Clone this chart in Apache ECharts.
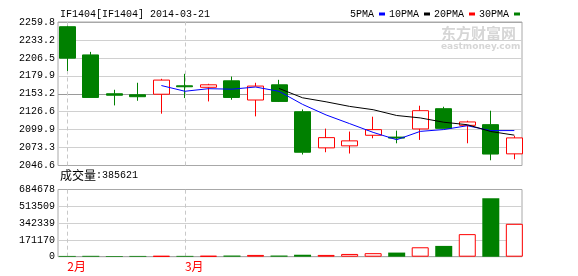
<!DOCTYPE html>
<html><head><meta charset="utf-8">
<script src="https://cdn.jsdelivr.net/npm/echarts@6/dist/echarts.min.js"></script>
<style>html,body{margin:0;padding:0;background:#fff}#c{width:578px;height:276px}</style>
</head><body><div id="c"></div>
<script>
// ---- data ----
const titleText = 'IF1404[IF1404] 2014-03-21';
const lastVolumeLabel = '385621';
const dates = ['2014-02-24','2014-02-25','2014-02-26','2014-02-27','2014-02-28',
  '2014-03-03','2014-03-04','2014-03-05','2014-03-06','2014-03-07',
  '2014-03-10','2014-03-11','2014-03-12','2014-03-13','2014-03-14',
  '2014-03-17','2014-03-18','2014-03-19','2014-03-20','2014-03-21'];
const monthLabels = ['2月','','','','','3月','','','','','','','','','','','','','',''];
const openValues  = [2252.8,2210.9,2153.2,2151.7,2152.5,2165.0,2162.8,2172.4,2143.9,2166.5,2126.5,2072.8,2075.8,2091.5,2088.8,2100.9,2131.0,2106.3,2107.3,2063.9];
const closeValues = [2206.1,2147.7,2151.0,2148.8,2173.5,2163.6,2166.5,2147.7,2164.6,2141.8,2066.3,2088.0,2083.2,2099.9,2087.3,2128.0,2101.8,2111.3,2063.6,2087.6];
const lowValues   = [2187.0,2147.5,2135.9,2142.8,2123.6,2146.8,2141.8,2144.3,2119.6,2140.9,2062.9,2066.3,2064.4,2087.0,2079.6,2084.6,2101.5,2079.6,2054.4,2055.9];
const highValues  = [2254.3,2215.4,2159.1,2169.5,2175.4,2182.8,2168.0,2178.8,2169.5,2173.9,2129.9,2101.4,2097.0,2119.1,2098.4,2135.4,2133.9,2113.2,2128.0,2090.6];
const ma5Values  = [null,null,null,null,2165.4,2156.9,2160.7,2160.0,2163.2,2156.8,2137.4,2121.7,2108.8,2095.8,2084.9,2097.3,2100.0,2105.7,2098.4,2098.5];
const ma10Values = [null,null,null,null,null,null,null,null,null,2161.1,2147.2,2141.2,2134.4,2129.5,2120.9,2117.3,2110.9,2107.2,2097.1,2091.7];
const ma20Values = [];
const ma30Values = [];
const volumeValues = [8000,9000,7000,8000,8000,8500,9000,12000,18000,12000,20000,18000,28000,36000,42000,96000,110000,230000,596000,335000];
const priceTicks = [2046.6,2073.3,2099.9,2126.6,2153.2,2179.9,2206.5,2233.2,2259.8];
const volumeTicks = [0,171170,342339,513509,684678];
const legendNames = ['5PMA','10PMA','20PMA','30PMA'];

// ---- styling ----
const MONO = 'Liberation Mono';
const CJK = 'Noto Sans CJK SC';
const UP = '#ff0000', DOWN = '#008000';
const DATA_LEFT = 55.5, DATA_W = 470.6, FRAME_LEFT = 58, FRAME_W = 464;
const P_TOP = 22, P_H = 143.5, V_TOP = 189.5, V_H = 67.2;
const BORDER = '#a8a8a8', GRID = '#d0d0d0', MID = '#9a9a9a';

const candleData = dates.map((d, i) => [openValues[i], closeValues[i], lowValues[i], highValues[i]]);
const volumeData = volumeValues.map((v, i) => {
  const up = closeValues[i] >= openValues[i];
  return { value: v, itemStyle: up ? { color: '#fff', borderColor: UP, borderWidth: 1 } : { color: DOWN, borderWidth: 0 } };
});
const monthLine = {
  silent: true, z: 1, symbol: ['none','none'], label: { show: false },
  lineStyle: { color: '#c8c8c8', type: [4,3], width: 1 },
  emphasis: { disabled: true },
  data: [{ xAxis: dates[0] }, { xAxis: dates[5] }]
};

const chart = echarts.init(document.getElementById('c'), null, { renderer: 'canvas' });
chart.setOption({
  animation: false,
  backgroundColor: '#fff',
  title: [
    { text: titleText, left: 60, top: 9, padding: 0,
      textStyle: { fontFamily: MONO, fontSize: 10, fontWeight: 'normal', color: '#000' } },
    { text: '{a|成交量}{b|:' + lastVolumeLabel + '}', left: 60, top: 169, padding: 0,
      textStyle: { fontWeight: 'normal',
                   rich: { a: { fontFamily: CJK, fontSize: 12, fontWeight: 'normal', color: '#000' },
                           b: { fontFamily: MONO, fontSize: 10, fontWeight: 'normal', color: '#000' } } } }
  ],
  legend: {
    data: legendNames, left: 350, top: 9, padding: 0, itemGap: 4, itemWidth: 6, itemHeight: 3,
    icon: 'rect', align: 'right', selectedMode: false,
    textStyle: { fontFamily: MONO, fontSize: 10, color: '#000' }
  },
  graphic: [
    { type: 'text', left: 441, top: 26, silent: true,
      style: { text: '东方财富网', font: 'bold 15px "Noto Sans CJK SC"', fill: '#d6d6d6' } },
    { type: 'text', left: 441, top: 42, silent: true,
      style: { text: 'eastmoney.com', font: 'bold 9px "DejaVu Sans"', fill: '#d6d6d6' } }
  ],
  grid: [
    { left: DATA_LEFT, top: P_TOP, width: DATA_W, height: P_H },
    { left: FRAME_LEFT, top: P_TOP, width: FRAME_W, height: P_H, show: true, borderColor: BORDER, borderWidth: 1, backgroundColor: 'transparent' },
    { left: DATA_LEFT, top: V_TOP, width: DATA_W, height: V_H },
    { left: FRAME_LEFT, top: V_TOP, width: FRAME_W, height: V_H, show: true, borderColor: BORDER, borderWidth: 1, backgroundColor: 'transparent' }
  ],
  xAxis: [
    { gridIndex: 0, type: 'category', data: dates, show: false },
    { gridIndex: 1, type: 'category', data: dates, show: false },
    { gridIndex: 2, type: 'category', data: dates,
      axisLine: { show: false }, axisTick: { show: false }, splitLine: { show: false },
      axisLabel: { interval: 0, formatter: (v, i) => monthLabels[i], color: '#ff0000',
                   fontFamily: CJK, fontSize: 12, align: 'left', margin: 4 } },
    { gridIndex: 3, type: 'category', data: dates, show: false }
  ],
  yAxis: [
    { gridIndex: 0, type: 'value', min: priceTicks[0], max: priceTicks[priceTicks.length-1], show: false, splitLine: { show: false } },
    { gridIndex: 1, type: 'value', min: priceTicks[0], max: priceTicks[priceTicks.length-1],
      axisLine: { show: false }, axisTick: { show: false, customValues: priceTicks },
      axisLabel: { customValues: priceTicks, formatter: v => v.toFixed(1), margin: 3,
                   fontFamily: MONO, fontSize: 10, color: '#000' },
      splitLine: { show: true, lineStyle: { width: 1, color: [BORDER, GRID, GRID, GRID, MID, GRID, GRID, GRID, BORDER] } } },
    { gridIndex: 2, type: 'value', min: 0, max: volumeTicks[volumeTicks.length-1], show: false, splitLine: { show: false } },
    { gridIndex: 3, type: 'value', min: 0, max: volumeTicks[volumeTicks.length-1],
      axisLine: { show: false }, axisTick: { show: false, customValues: volumeTicks },
      axisLabel: { customValues: volumeTicks, formatter: v => String(v), margin: 3, padding: [6,0,0,0],
                   fontFamily: MONO, fontSize: 10, color: '#000' },
      splitLine: { show: true, lineStyle: { width: 1, color: [BORDER, GRID, GRID, GRID, BORDER] } } }
  ],
  series: [
    { type: 'candlestick', name: 'K', xAxisIndex: 0, yAxisIndex: 0, data: candleData, barWidth: 16.5,
      itemStyle: { color: '#fff', color0: DOWN, borderColor: UP, borderColor0: DOWN, borderWidth: 1 },
      emphasis: { disabled: true }, markLine: monthLine },
    { type: 'line', name: '5PMA', xAxisIndex: 0, yAxisIndex: 0, data: ma5Values, color: '#0000ff',
      showSymbol: false, symbol: 'none', lineStyle: { width: 1, color: '#0000ff' }, z: 3, emphasis: { disabled: true } },
    { type: 'line', name: '10PMA', xAxisIndex: 0, yAxisIndex: 0, data: ma10Values, color: '#000000',
      showSymbol: false, symbol: 'none', lineStyle: { width: 1, color: '#000000' }, z: 3, emphasis: { disabled: true } },
    { type: 'line', name: '20PMA', xAxisIndex: 0, yAxisIndex: 0, data: ma20Values, color: '#ff0000',
      showSymbol: false, symbol: 'none', lineStyle: { width: 1 } },
    { type: 'line', name: '30PMA', xAxisIndex: 0, yAxisIndex: 0, data: ma30Values, color: '#008000',
      showSymbol: false, symbol: 'none', lineStyle: { width: 1 } },
    { type: 'bar', name: 'VOL', xAxisIndex: 2, yAxisIndex: 2, data: volumeData, barWidth: 17,
      emphasis: { disabled: true }, markLine: monthLine }
  ]
});
</script></body></html>
